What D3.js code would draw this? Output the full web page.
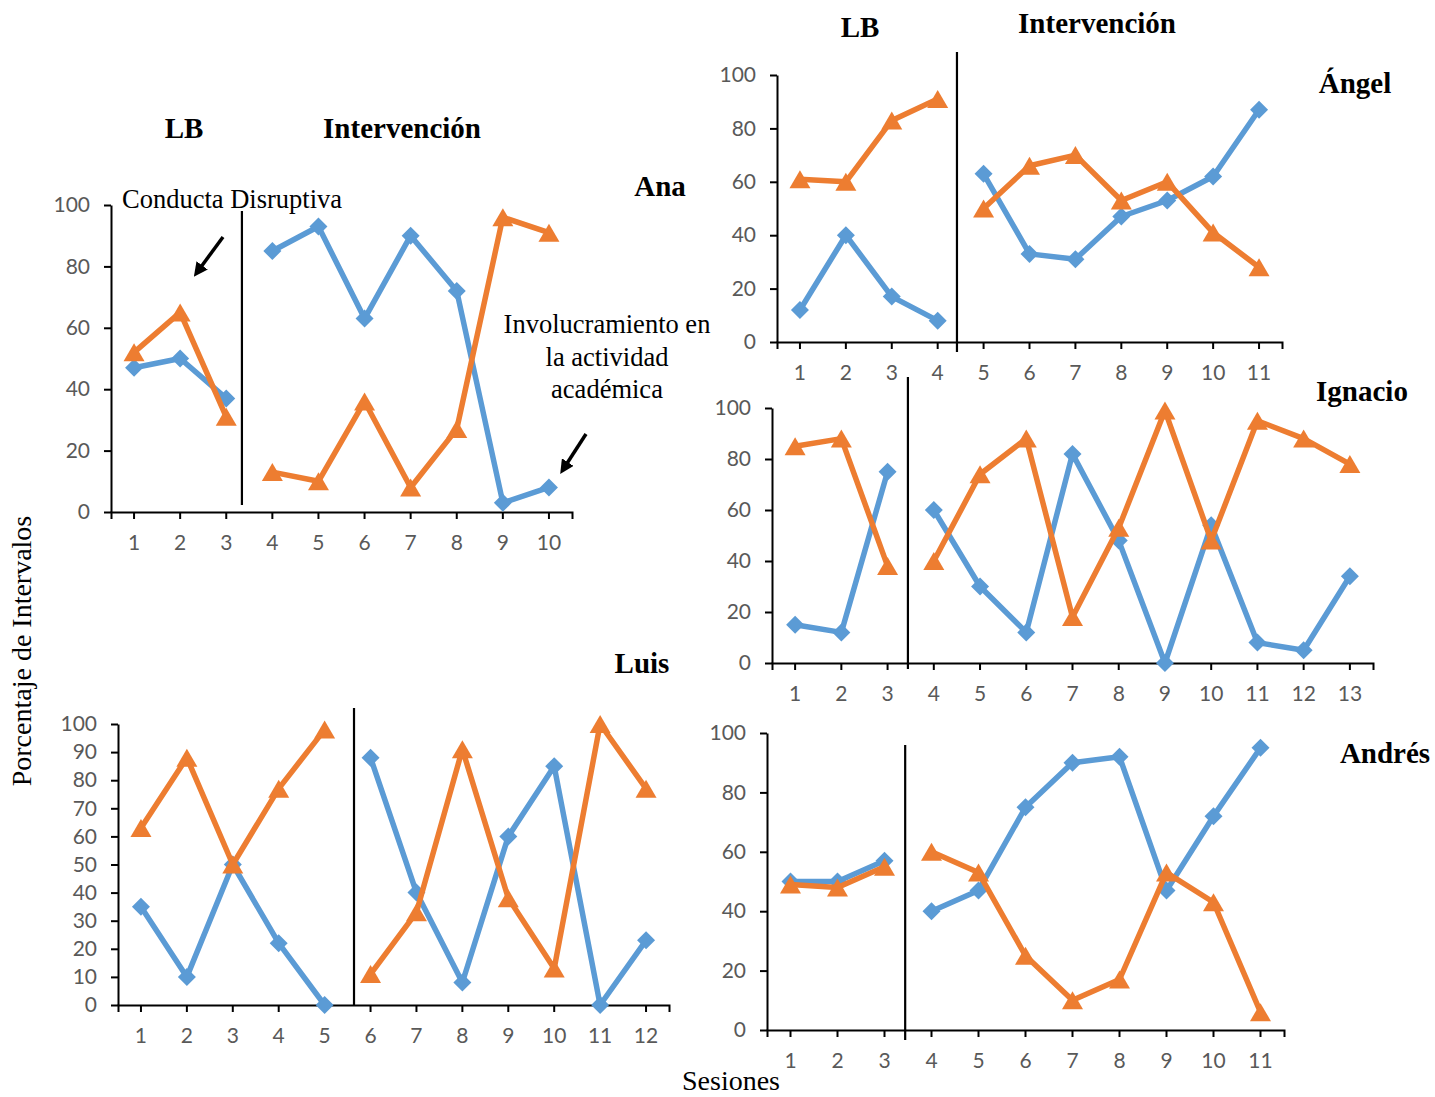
<!DOCTYPE html>
<html><head><meta charset="utf-8">
<script src="https://cdn.jsdelivr.net/npm/d3@7"></script>
<style>body{margin:0;background:#fff}svg{display:block}</style>
</head><body>
<svg id="chart" width="1435" height="1097"></svg>
<script>
// ---- DATA ----
const anaSessions = ["1","2","3","4","5","6","7","8","9","10"];
const anaInvolucramiento = [47,50,37,85,93,63,90,72,3,8];
const anaDisruptiva = [52,65,31,13,10,36,8,27,96,91];

const angelSessions = ["1","2","3","4","5","6","7","8","9","10","11"];
const angelInvolucramiento = [12,40,17,8,63,33,31,47,53,62,87];
const angelDisruptiva = [61,60,83,91,50,66,70,53,60,41,28];

const ignacioSessions = ["1","2","3","4","5","6","7","8","9","10","11","12","13"];
const ignacioInvolucramiento = [15,12,75,60,30,12,82,48,0,54,8,5,34];
const ignacioDisruptiva = [85,88,38,40,74,88,18,53,99,48,95,88,78];

const luisSessions = ["1","2","3","4","5","6","7","8","9","10","11","12"];
const luisInvolucramiento = [35,10,50,22,0,88,40,8,60,85,0,23];
const luisDisruptiva = [63,88,50,77,98,11,33,91,38,13,100,77];

const andresSessions = ["1","2","3","4","5","6","7","8","9","10","11"];
const andresInvolucramiento = [50,50,57,40,47,75,90,92,47,72,95];
const andresDisruptiva = [49,48,55,60,53,25,10,17,53,43,6];

const yTicksBy20 = [0,20,40,60,80,100];
const yTicksBy10 = [0,10,20,30,40,50,60,70,80,90,100];

// baseline sessions count per participant (phase change after this many sessions)
const anaBaseline = 3, angelBaseline = 4, ignacioBaseline = 3, luisBaseline = 5, andresBaseline = 3;

// ---- LAYOUT ----
const BLUE = "#5B9BD5", ORANGE = "#ED7D31";
const svg = d3.select("#chart");

const panels = [
  {sessions: anaSessions, blue: anaInvolucramiento, orange: anaDisruptiva, baseline: anaBaseline, yTicks: yTicksBy20,
   x0: 111, x1: 572, yTop: 205, yBot: 512, phaseOff: 0.34, phaseY1: 211, phaseY2: 505},
  {sessions: angelSessions, blue: angelInvolucramiento, orange: angelDisruptiva, baseline: angelBaseline, yTicks: yTicksBy20,
   x0: 777, x1: 1282, yTop: 75, yBot: 342, phaseOff: 0.42, phaseY1: 52, phaseY2: 352},
  {sessions: ignacioSessions, blue: ignacioInvolucramiento, orange: ignacioDisruptiva, baseline: ignacioBaseline, yTicks: yTicksBy20,
   x0: 772, x1: 1373, yTop: 408, yBot: 663, phaseOff: 0.44, phaseY1: 377, phaseY2: 669},
  {sessions: luisSessions, blue: luisInvolucramiento, orange: luisDisruptiva, baseline: luisBaseline, yTicks: yTicksBy10,
   x0: 118, x1: 669, yTop: 724, yBot: 1005, phaseOff: 0.64, phaseY1: 708, phaseY2: 1005},
  {sessions: andresSessions, blue: andresInvolucramiento, orange: andresDisruptiva, baseline: andresBaseline, yTicks: yTicksBy20,
   x0: 767, x1: 1284, yTop: 733, yBot: 1030, phaseOff: 0.44, phaseY1: 745, phaseY2: 1040}
];

function diamond(s){ return `M0,${-s}L${s},0L0,${s}L${-s},0Z`; }
function triangle(w,h){ return `M0,${-h/2-1}L${w/2},${h/2+1}L${-w/2},${h/2+1}Z`; }

panels.forEach(p => {
  const g = svg.append("g");
  const x = d3.scaleBand().domain(p.sessions).range([p.x0, p.x1]);
  const cx = s => x(s) + x.bandwidth()/2;
  const y = d3.scaleLinear().domain([0,100]).range([p.yBot, p.yTop]);

  const yAxis = g.append("g").attr("transform", `translate(${p.x0},0)`)
    .call(d3.axisLeft(y).tickValues(p.yTicks).tickSize(7).tickSizeOuter(0).tickPadding(14));
  const xAxis = g.append("g").attr("transform", `translate(0,${p.yBot})`)
    .call(d3.axisBottom(x).tickSize(7).tickSizeOuter(7).tickPadding(16));
  [yAxis, xAxis].forEach(a => {
    a.select(".domain").attr("stroke", "#000").attr("stroke-width", 2);
    a.selectAll(".tick line").attr("stroke", "#000").attr("stroke-width", 2);
    a.selectAll(".tick text").attr("fill", "#595959").style("font-family", "Lato, 'Open Sans', sans-serif").style("font-size", "21px");
  });

  // phase change line
  const phaseX = cx(p.sessions[p.baseline-1]) + x.bandwidth()*p.phaseOff;
  g.append("line").attr("x1", phaseX).attr("x2", phaseX).attr("y1", p.phaseY1).attr("y2", p.phaseY2)
    .attr("stroke", "#000").attr("stroke-width", 2.2);

  const series = [
    {vals: p.blue, color: BLUE, marker: diamond(9)},
    {vals: p.orange, color: ORANGE, marker: triangle(21,16)}
  ];
  const line = d3.line().x(d => cx(d.s)).y(d => y(d.v));
  series.forEach(se => {
    const pts = p.sessions.map((s,i) => ({s, v: se.vals[i], i}));
    const phases = [pts.slice(0, p.baseline), pts.slice(p.baseline)];
    phases.forEach(ph => {
      g.append("path").datum(ph).attr("d", line).attr("fill", "none")
        .attr("stroke", se.color).attr("stroke-width", 5.5).attr("stroke-linejoin", "round").attr("stroke-linecap", "round");
    });
    g.selectAll(null).data(pts).enter().append("path")
      .attr("d", se.marker).attr("transform", d => `translate(${cx(d.s)},${y(d.v)})`)
      .attr("fill", se.color);
  });
});

// ---- TEXT ----
const bold = {"font-family": "'Liberation Serif', 'Times New Roman', serif", "font-weight": "bold", "font-size": "29px"};
function txt(t, xx, yy, style, anchor="middle"){
  const e = svg.append("text").attr("x", xx).attr("y", yy).attr("text-anchor", anchor).text(t);
  Object.entries(style).forEach(([k,v]) => e.style(k, v));
  return e;
}
const normal = {"font-family": "'Liberation Serif', 'Times New Roman', serif", "font-size": "26.5px", "fill": "#000"};
const axisTitle = {"font-family": "'Liberation Serif', 'Times New Roman', serif", "font-size": "28px", "fill": "#000"};

txt("LB", 184, 138, bold); txt("Intervención", 402, 138, bold); txt("Ana", 660, 196, bold);
txt("LB", 860, 37, bold); txt("Intervención", 1097, 33, bold); txt("Ángel", 1355, 93, bold);
txt("Ignacio", 1362, 401, bold);
txt("Luis", 642, 673, bold);
txt("Andrés", 1385, 763, bold);

txt("Conducta Disruptiva", 122, 208, normal, "start");
txt("Involucramiento en", 607, 333, normal);
txt("la actividad", 607, 366, normal);
txt("académica", 607, 398, normal);
txt("Sesiones", 731, 1090, axisTitle);
txt("Porcentaje de Intervalos", 0, 0, axisTitle).attr("transform", "translate(31,651) rotate(-90)");

// arrows
const defs = svg.append("defs");
defs.append("marker").attr("id", "ah").attr("viewBox", "0 0 10 10").attr("refX", 5).attr("refY", 5)
  .attr("markerWidth", 4).attr("markerHeight", 4).attr("orient", "auto")
  .append("path").attr("d", "M0,0L10,5L0,10Z").attr("fill", "#000");
[[223,237,198,271],[586,434,564,468]].forEach(a => {
  svg.append("line").attr("x1", a[0]).attr("y1", a[1]).attr("x2", a[2]).attr("y2", a[3])
    .attr("stroke", "#000").attr("stroke-width", 3.5).attr("marker-end", "url(#ah)");
});
</script>
</body></html>
